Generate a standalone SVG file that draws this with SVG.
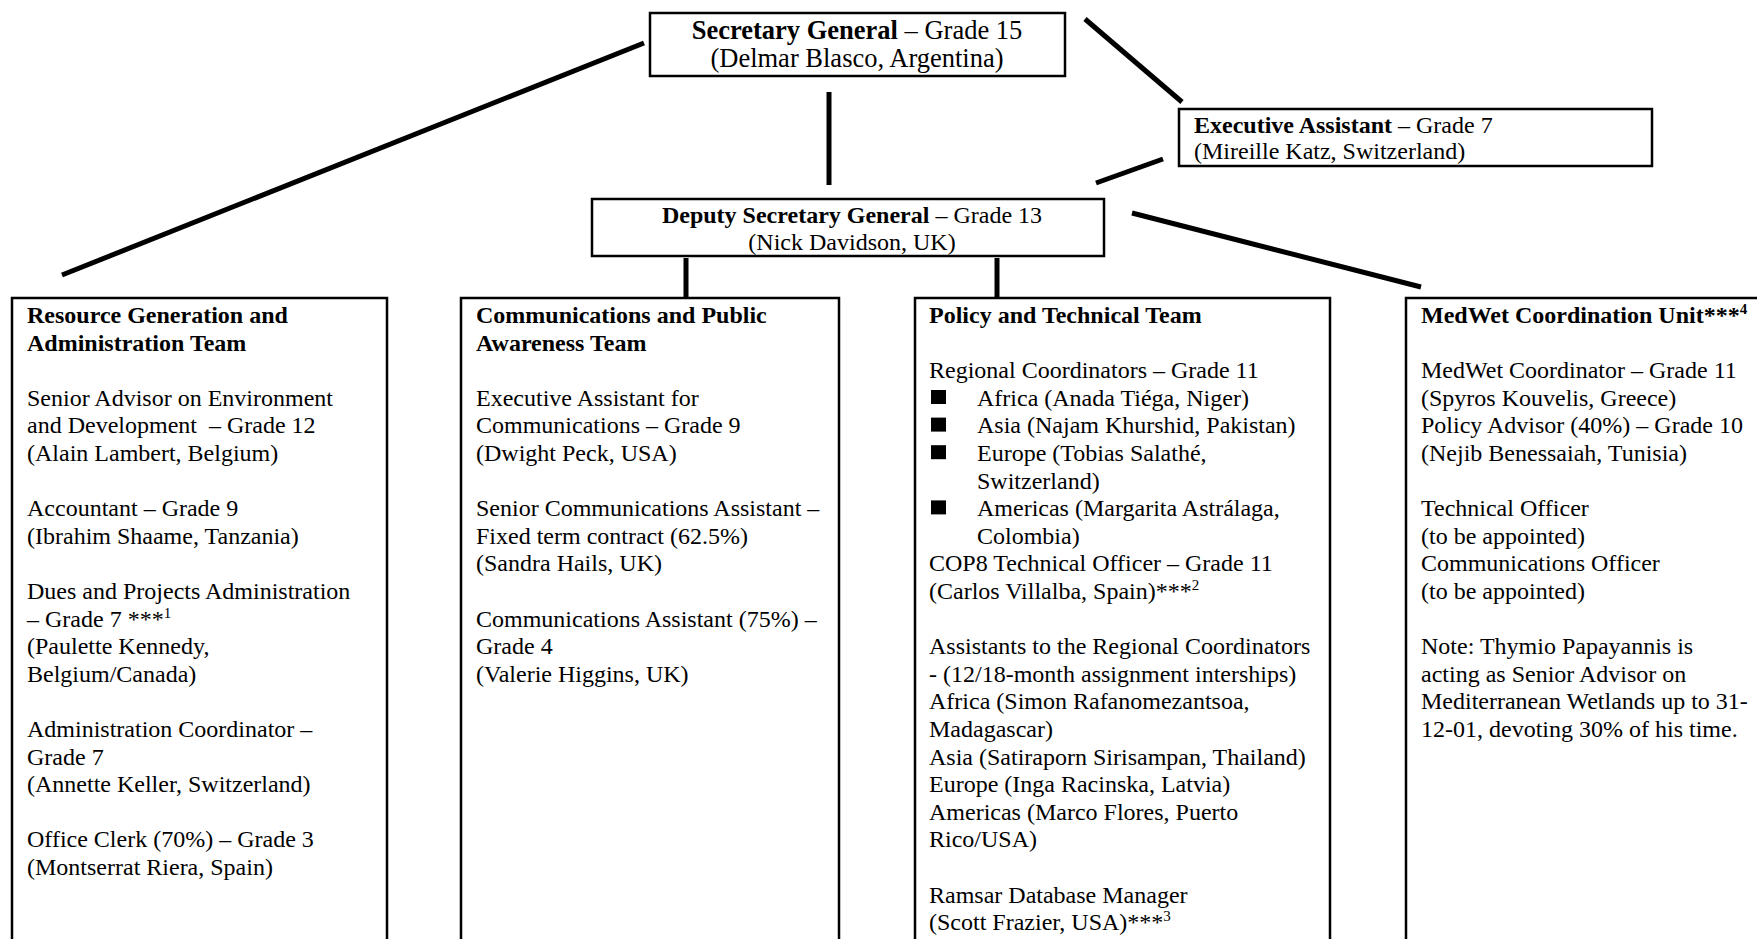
<svg xmlns="http://www.w3.org/2000/svg" width="1757" height="939" viewBox="0 0 1757 939">
<style>
text{font-family:"Liberation Serif","Times New Roman",serif;font-size:24px;fill:#000}
.b{font-weight:bold}
.lg{font-size:26.5px}
.box{fill:#fff;stroke:#000;stroke-width:2.5}
.con{stroke:#000;stroke-width:5;fill:none}
.sup{font-size:15px}
.bul{fill:#000}
</style>
<rect width="1757" height="939" fill="#fff"/>
<g id="connectors">
<line class="con" x1="644" y1="43" x2="62" y2="275"/>
<line class="con" x1="829" y1="92" x2="829" y2="185"/>
<line class="con" x1="1085" y1="19" x2="1182" y2="102"/>
<line class="con" x1="1163" y1="159" x2="1096" y2="183"/>
<line class="con" x1="1132" y1="213" x2="1421" y2="287"/>
<line class="con" x1="686" y1="258" x2="686" y2="298"/>
<line class="con" x1="997" y1="258" x2="997" y2="298"/>
</g>
<g id="secretary-general">
<rect class="box" x="650" y="13" width="415" height="63"/>
<text x="857" y="39" text-anchor="middle" class="lg"><tspan class="b">Secretary General</tspan> – Grade 15</text>
<text x="857" y="67" text-anchor="middle" class="lg">(Delmar Blasco, Argentina)</text>
</g>
<g id="executive-assistant">
<rect class="box" x="1179" y="109" width="473" height="57"/>
<text x="1194" y="133"><tspan class="b">Executive Assistant</tspan> – Grade 7</text>
<text x="1194" y="159">(Mireille Katz, Switzerland)</text>
</g>
<g id="deputy-secretary-general">
<rect class="box" x="592" y="199" width="512" height="57"/>
<text x="852" y="223" text-anchor="middle"><tspan class="b">Deputy Secretary General</tspan> – Grade 13</text>
<text x="852" y="250" text-anchor="middle">(Nick Davidson, UK)</text>
</g>
<g id="resource-team">
<rect class="box" x="12" y="298" width="375" height="680"/>
<text x="27" y="323" class="b">Resource Generation and</text>
<text x="27" y="350.6" class="b">Administration Team</text>
<text x="27" y="405.8">Senior Advisor on Environment</text>
<text x="27" y="433.4">and Development &#160;– Grade 12</text>
<text x="27" y="461">(Alain Lambert, Belgium)</text>
<text x="27" y="516.2">Accountant – Grade 9</text>
<text x="27" y="543.8">(Ibrahim Shaame, Tanzania)</text>
<text x="27" y="599">Dues and Projects Administration</text>
<text x="27" y="626.6">– Grade 7 ***<tspan class="sup" dy="-9">1</tspan></text>
<text x="27" y="654.2">(Paulette Kennedy,</text>
<text x="27" y="681.8">Belgium/Canada)</text>
<text x="27" y="737">Administration Coordinator –</text>
<text x="27" y="764.6">Grade 7</text>
<text x="27" y="792.2">(Annette Keller, Switzerland)</text>
<text x="27" y="847.4">Office Clerk (70%) – Grade 3</text>
<text x="27" y="875">(Montserrat Riera, Spain)</text>
</g>
<g id="communications-team">
<rect class="box" x="461" y="298" width="378" height="680"/>
<text x="476" y="323" class="b">Communications and Public</text>
<text x="476" y="350.6" class="b">Awareness Team</text>
<text x="476" y="405.8">Executive Assistant for</text>
<text x="476" y="433.4">Communications – Grade 9</text>
<text x="476" y="461">(Dwight Peck, USA)</text>
<text x="476" y="516.2">Senior Communications Assistant –</text>
<text x="476" y="543.8">Fixed term contract (62.5%)</text>
<text x="476" y="571.4">(Sandra Hails, UK)</text>
<text x="476" y="626.6">Communications Assistant (75%) –</text>
<text x="476" y="654.2">Grade 4</text>
<text x="476" y="681.8">(Valerie Higgins, UK)</text>
</g>
<g id="policy-team">
<rect class="box" x="915" y="298" width="415" height="680"/>
<text x="929" y="323" class="b">Policy and Technical Team</text>
<text x="929" y="378.2">Regional Coordinators – Grade 11</text>
<rect class="bul" x="931" y="390" width="15" height="14"/>
<text x="977" y="405.8">Africa (Anada Tiéga, Niger)</text>
<rect class="bul" x="931" y="417.6" width="15" height="14"/>
<text x="977" y="433.4">Asia (Najam Khurshid, Pakistan)</text>
<rect class="bul" x="931" y="445.2" width="15" height="14"/>
<text x="977" y="461">Europe (Tobias Salathé,</text>
<text x="977" y="488.6">Switzerland)</text>
<rect class="bul" x="931" y="500.4" width="15" height="14"/>
<text x="977" y="516.2">Americas (Margarita Astrálaga,</text>
<text x="977" y="543.8">Colombia)</text>
<text x="929" y="571.4">COP8 Technical Officer – Grade 11</text>
<text x="929" y="599">(Carlos Villalba, Spain)***<tspan class="sup" dy="-9">2</tspan></text>
<text x="929" y="654.2">Assistants to the Regional Coordinators</text>
<text x="929" y="681.8">- (12/18-month assignment interships)</text>
<text x="929" y="709.4">Africa (Simon Rafanomezantsoa,</text>
<text x="929" y="737">Madagascar)</text>
<text x="929" y="764.6">Asia (Satiraporn Sirisampan, Thailand)</text>
<text x="929" y="792.2">Europe (Inga Racinska, Latvia)</text>
<text x="929" y="819.8">Americas (Marco Flores, Puerto</text>
<text x="929" y="847.4">Rico/USA)</text>
<text x="929" y="902.6">Ramsar Database Manager</text>
<text x="929" y="930.2">(Scott Frazier, USA)***<tspan class="sup" dy="-9">3</tspan></text>
</g>
<g id="medwet-unit">
<rect class="box" x="1406" y="298" width="400" height="680"/>
<text x="1421" y="323" class="b">MedWet Coordination Unit***<tspan class="sup" dy="-9">4</tspan></text>
<text x="1421" y="378.2">MedWet Coordinator – Grade 11</text>
<text x="1421" y="405.8">(Spyros Kouvelis, Greece)</text>
<text x="1421" y="433.4">Policy Advisor (40%) – Grade 10</text>
<text x="1421" y="461">(Nejib Benessaiah, Tunisia)</text>
<text x="1421" y="516.2">Technical Officer</text>
<text x="1421" y="543.8">(to be appointed)</text>
<text x="1421" y="571.4">Communications Officer</text>
<text x="1421" y="599">(to be appointed)</text>
<text x="1421" y="654.2">Note: Thymio Papayannis is</text>
<text x="1421" y="681.8">acting as Senior Advisor on</text>
<text x="1421" y="709.4">Mediterranean Wetlands up to 31-</text>
<text x="1421" y="737">12-01, devoting 30% of his time.</text>
</g>
</svg>
